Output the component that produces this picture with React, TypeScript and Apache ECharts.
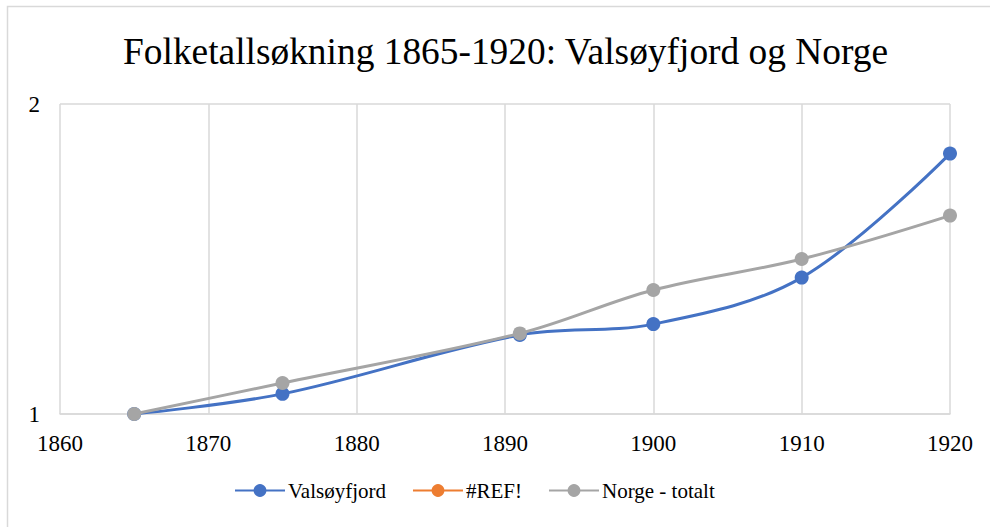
import React, { useEffect, useRef } from "react";
import * as echarts from "echarts";

const years = [1865, 1875, 1891, 1900, 1910, 1920];
const valsoyfjord = [1.0, 1.065, 1.255, 1.29, 1.44, 1.84];
const refSeries: number[] = [];
const norge = [1.0, 1.1, 1.26, 1.4, 1.5, 1.64];
const xTicks = [1860, 1870, 1880, 1890, 1900, 1910, 1920];
const yTicks = [1, 2];

const FONT = "'Liberation Serif', 'Times New Roman', serif";

export default function App() {
  const ref = useRef<HTMLDivElement>(null);
  useEffect(() => {
    if (!ref.current) return;
    const chart = echarts.init(ref.current, undefined, { renderer: "svg" });
    const pair = (vals: number[]) => years.map((y, i) => [y, vals[i]]);
    chart.setOption({
      animation: false,
      backgroundColor: "#ffffff",
      textStyle: { fontFamily: FONT },
      title: {
        text: "Folketallsøkning 1865-1920: Valsøyfjord og Norge",
        left: 118,
        top: 28,
        textStyle: { fontFamily: FONT, fontSize: 37.4, fontWeight: "normal", color: "#000" },
      },
      graphic: [
        {
          type: "rect",
          shape: { x: 7.5, y: 6.5, width: 1100, height: 700 },
          style: { fill: "none", stroke: "#d9d9d9", lineWidth: 1.5 },
          silent: true,
          z: -1,
        },
      ],
      grid: { left: 60, right: 40, top: 104, bottom: 113 },
      xAxis: {
        type: "value",
        min: xTicks[0],
        max: xTicks[xTicks.length - 1],
        interval: 10,
        axisLine: { show: true, lineStyle: { color: "#d9d9d9", width: 1.5 } },
        axisTick: { show: false },
        splitLine: { show: true, lineStyle: { color: "#d9d9d9", width: 1.5 } },
        axisLabel: {
          color: "#000",
          fontSize: 23,
          fontFamily: FONT,
          margin: 18,
          formatter: (v: number) => String(v),
        },
      },
      yAxis: {
        type: "value",
        min: yTicks[0],
        max: yTicks[yTicks.length - 1],
        interval: 1,
        axisLine: { show: false },
        axisTick: { show: false },
        splitLine: { show: true, lineStyle: { color: "#d9d9d9", width: 1.5 } },
        axisLabel: {
          color: "#000",
          fontSize: 23,
          fontFamily: FONT,
          margin: 20,
          formatter: (v: number) => String(v),
        },
      },
      legend: {
        bottom: 21,
        left: 229,
        itemWidth: 50,
        itemHeight: 16,
        itemGap: 26,
        textStyle: { color: "#000", fontSize: 21, fontFamily: FONT, padding: [0, 0, 0, -2] },
        data: ["Valsøyfjord", "#REF!", "Norge - totalt"],
      },
      series: [
        {
          name: "Valsøyfjord",
          type: "line",
          smooth: 0.35,
          data: pair(valsoyfjord),
          symbol: "circle",
          symbolSize: 14,
          lineStyle: { color: "#4472C4", width: 3 },
          itemStyle: { color: "#4472C4" },
          z: 3,
        },
        {
          name: "#REF!",
          type: "line",
          data: refSeries,
          symbol: "circle",
          symbolSize: 14,
          lineStyle: { color: "#ED7D31", width: 3 },
          itemStyle: { color: "#ED7D31" },
        },
        {
          name: "Norge - totalt",
          type: "line",
          smooth: 0.35,
          data: pair(norge),
          symbol: "circle",
          symbolSize: 14,
          lineStyle: { color: "#A5A5A5", width: 3 },
          itemStyle: { color: "#A5A5A5" },
          z: 4,
        },
      ],
    });
    return () => chart.dispose();
  }, []);
  return (
    <div
      ref={ref}
      style={{ position: "fixed", left: 0, top: 0, width: 990, height: 527 }}
    />
  );
}
